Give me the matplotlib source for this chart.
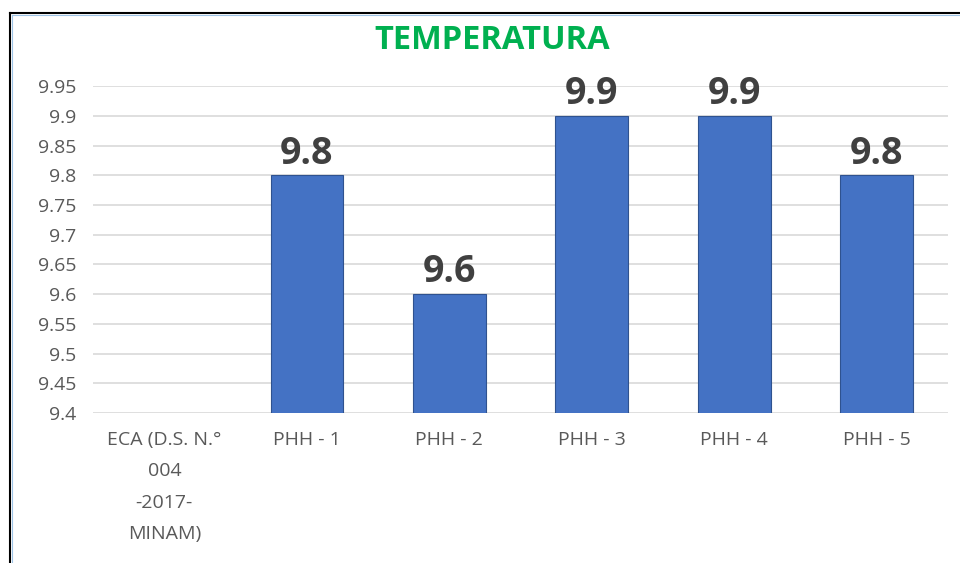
import numpy as np
import matplotlib.pyplot as plt
from matplotlib.lines import Line2D

plt.rcParams['font.family'] = ['Open Sans', 'DejaVu Sans']

# datos
categorias = ['ECA (D.S. N.°\n004\n-2017-\nMINAM)', 'PHH - 1', 'PHH - 2',
              'PHH - 3', 'PHH - 4', 'PHH - 5']
temperatura = [np.nan, 9.8, 9.6, 9.9, 9.9, 9.8]
ticks_y = [9.4, 9.45, 9.5, 9.55, 9.6, 9.65, 9.7, 9.75, 9.8, 9.85, 9.9, 9.95]

fig = plt.figure(figsize=(9.6, 5.63), dpi=100)
ax = fig.add_axes([0.097, 0.2664, 0.8905, 0.5806])

x = np.arange(len(categorias))
barras = ax.bar(x, temperatura, width=0.51, color='#4472C4',
                edgecolor='#2F528F', linewidth=0.8, zorder=3)

for xi, v in zip(x, temperatura):
    if np.isnan(v):
        continue
    ax.annotate(f'{v:g}', (xi, v), xytext=(0, 2), textcoords='offset points',
                ha='center', va='bottom', fontsize=27, fontweight='bold',
                color='#404040')

ax.set_xlim(-0.5, len(categorias) - 0.5)
ax.set_ylim(9.4, 9.95)
ax.set_yticks(ticks_y)
ax.set_yticklabels([f'{t:g}' for t in ticks_y])
ax.set_xticks(x)
ax.set_xticklabels(categorias, linespacing=1.95, va='top')
ax.tick_params(length=0, labelsize=14, labelcolor='#595959')
ax.tick_params(axis='x', pad=13)
ax.tick_params(axis='y', pad=12)
ax.grid(axis='y', color='#D9D9D9', linewidth=1.2, zorder=0)
for s in ax.spines.values():
    s.set_visible(False)

fig.text(0.513, 0.928, 'TEMPERATURA', ha='center', va='center',
         fontsize=23.5, fontweight='bold', color='#00B050')

# marco de la captura
fig.add_artist(Line2D([10 / 960, 10 / 960], [0, 1 - 13 / 563],
                      transform=fig.transFigure, color='black', lw=1.5))
fig.add_artist(Line2D([10 / 960, 1], [1 - 13 / 563, 1 - 13 / 563],
                      transform=fig.transFigure, color='black', lw=1.5))
fig.add_artist(Line2D([12 / 960, 12 / 960], [0, 1 - 15 / 563],
                      transform=fig.transFigure, color='#9DC3E6', lw=0.8))
fig.add_artist(Line2D([12 / 960, 1], [1 - 15 / 563, 1 - 15 / 563],
                      transform=fig.transFigure, color='#9DC3E6', lw=0.8))

fig.savefig('out.png', dpi=100)
